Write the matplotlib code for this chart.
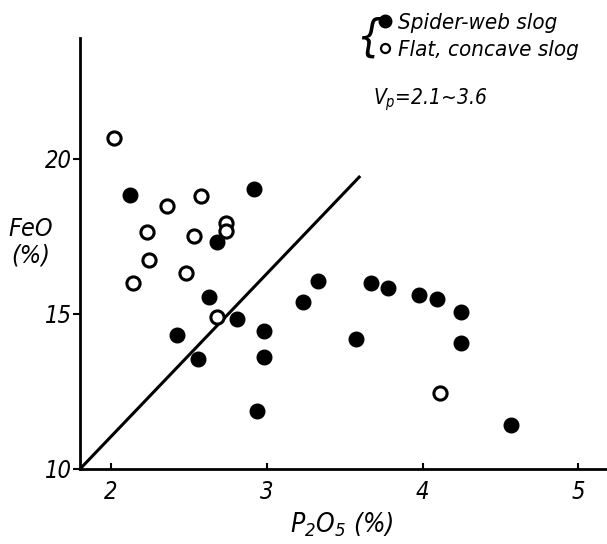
import matplotlib
matplotlib.use("Agg")
import matplotlib.pyplot as plt
from matplotlib.lines import Line2D

plt.rcParams["font.family"] = ["DejaVu Sans"]
plt.rcParams["font.style"] = "italic"
plt.rcParams["font.stretch"] = "condensed"
plt.rcParams["mathtext.fontset"] = "custom"
plt.rcParams["mathtext.rm"] = "DejaVu Sans:style=italic:stretch=condensed"
plt.rcParams["mathtext.it"] = "DejaVu Sans:style=italic:stretch=condensed"
plt.rcParams["mathtext.bf"] = "DejaVu Sans:style=italic:weight=bold:stretch=condensed"

# Spider-web slag (filled circles)
web_p2o5 = [2.12, 2.92, 2.68, 2.63, 2.81, 2.98, 2.42, 2.56, 2.98, 2.94,
            3.33, 3.23, 3.67, 3.78, 3.98, 4.09, 4.25, 3.57, 4.25, 4.57]
web_feo = [18.84, 19.03, 17.32, 15.55, 14.84, 14.45, 14.32, 13.55, 13.61, 11.87,
           16.06, 15.39, 16.00, 15.84, 15.61, 15.48, 15.06, 14.19, 14.06, 11.42]

# Flat, concave slag (open circles)
flat_p2o5 = [2.02, 2.36, 2.58, 2.23, 2.53, 2.74, 2.74, 2.24, 2.48, 2.14, 2.68, 4.11]
flat_feo = [20.68, 18.48, 18.81, 17.65, 17.52, 17.94, 17.68, 16.74, 16.32, 16.00, 14.90, 12.45]

# Dividing line
line_p2o5 = [1.8, 3.6]
line_feo = [10.0, 19.45]

x_ticks = [2, 3, 4, 5]
y_ticks = [10, 15, 20]

fig = plt.figure(figsize=(6.07, 5.44), dpi=100)
ax = fig.add_axes([80 / 607, 75 / 544, 527 / 607, 431 / 544])
ax.set_xlim(1.8, 5.185)
ax.set_ylim(10, 23.9)

for s in ["top", "right"]:
    ax.spines[s].set_visible(False)
for s in ["left", "bottom"]:
    ax.spines[s].set_linewidth(2.0)
    ax.spines[s].set_color("black")

ax.plot(line_p2o5, line_feo, color="black", lw=2.2, solid_capstyle="butt", zorder=2)
ax.plot(web_p2o5, web_feo, "o", ms=10.5, mfc="black", mec="black", mew=1.0,
        ls="none", zorder=3, clip_on=False)
ax.plot(flat_p2o5, flat_feo, "o", ms=9.5, mfc="white", mec="black", mew=2.2,
        ls="none", zorder=3, clip_on=False)

ax.set_xticks(x_ticks)
ax.set_xticklabels([str(v) for v in x_ticks])
ax.set_yticks(y_ticks)
ax.set_yticklabels([str(v) for v in y_ticks])
ax.tick_params(axis="x", direction="in", length=4, width=1.5, pad=8, labelsize=17)
ax.tick_params(axis="y", direction="out", length=5, width=1.5, pad=1, labelsize=17)

ax.set_xlabel("$P_2O_5$ (%)", fontsize=19, va="center")
ax.xaxis.set_label_coords((342 - 80) / 527, -(525 - 469) / 431)
fig.text(31 / 607, 1 - 242 / 544, "FeO\n(%)", fontsize=18, ha="center",
         va="center", linespacing=1.15)

ax.text((373 - 80) / 527, (469 - 100) / 431, "$V_p$=2.1~3.6", transform=ax.transAxes,
        fontsize=15, ha="left", va="center")

handles = [
    Line2D([], [], marker="o", ls="none", ms=9, mfc="black", mec="black"),
    Line2D([], [], marker="o", ls="none", ms=6.5, mfc="white", mec="black", mew=1.6),
]
leg = fig.legend(handles, ["Spider-web slog", "Flat, concave slog"],
                 loc="upper left", bbox_to_anchor=(376 / 607, 1 - 13 / 544),
                 frameon=False, fontsize=16, handlelength=0.8, handletextpad=0.2,
                 labelspacing=0.3, borderpad=0, borderaxespad=0)
fig.text(369 / 607, 1 - 38 / 544, "{", fontsize=32, ha="center", va="center")

fig.savefig("out.png", dpi=100)
